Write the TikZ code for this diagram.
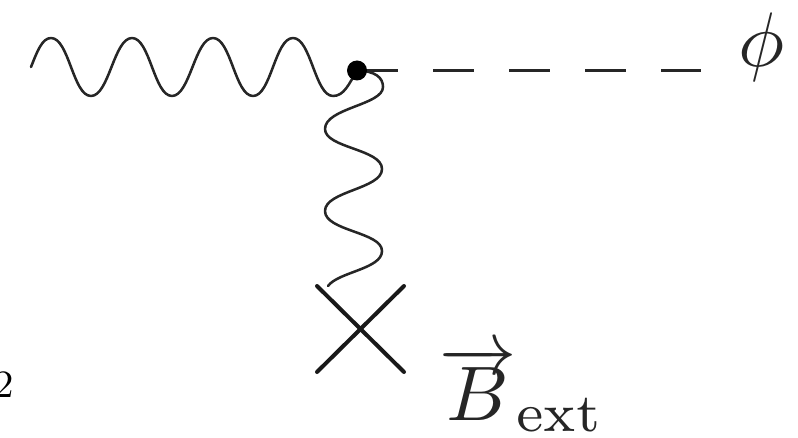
\documentclass[tikz,border=0pt]{standalone}
\tikzset{
  wavy/.style={draw=black!85, line width=1.9pt, line cap=round, line join=round},
  scalar/.style={draw=black!85, line width=2.3pt, dash pattern=on 30.75pt off 26.25pt},
  crossbar/.style={draw=black!90, line width=3pt, line cap=round},
  vertexdot/.style={circle, fill=black, inner sep=0pt, minimum size=15pt},
  bigmath/.style={inner sep=0pt, outer sep=0pt, scale=5.8, text=black!85},
}
\begin{document}
\begin{tikzpicture}[x=0.75pt,y=-0.75pt]
\useasboundingbox (0,0) rectangle (798,438);
\coordinate (wstart) at (31,67);
\coordinate (dashend) at (701,70.5);
\coordinate (vtx) at (357,70.5);
\coordinate (crossa) at (317,286);
\coordinate (crossb) at (404,372);
\coordinate (crossd) at (404,286);
\coordinate (crosse) at (317,372);
\coordinate (wend) at (328,286);
% scalar line
\draw[scalar] (vtx) -- (dashend);
% horizontal photon
\draw[wavy] (wstart) .. controls (37,52) and (42,38) .. (51,38)
  .. controls (69,38) and (73,96) .. (91,96)
  .. controls (109,96) and (114,38) .. (132,38)
  .. controls (150,38) and (154,96) .. (172,96)
  .. controls (190,96) and (195,38) .. (213,38)
  .. controls (231,38) and (235,96) .. (253,96)
  .. controls (271,96) and (275,38) .. (293,38)
  .. controls (311,38) and (315,96) .. (333,96)
  .. controls (344,96) and (349,84) .. (vtx);
% vertical photon
\draw[wavy] (vtx) .. controls (376,71) and (383,78) .. (383,87)
  .. controls (383,105) and (325,108) .. (325,129)
  .. controls (325,148) and (382,149) .. (382,169)
  .. controls (382,189) and (325,191) .. (325,211)
  .. controls (325,231) and (382,232) .. (382,251)
  .. controls (382,269) and (338,272) .. (wend);
% cross
\draw[crossbar] (crossa) -- (crossb);
\draw[crossbar] (crossd) -- (crosse);
% vertex
\node[vertexdot] (v) at (vtx) {};
% labels
\node[bigmath, anchor=base west] (phi) at (738,67) {$\phi$};
\node[bigmath, anchor=base west] (bext) at (439,420) {$\overrightarrow{B}_{\rm ext}$};
\node[inner sep=0pt, anchor=base east, scale=2.9, text=black] (pagenum) at (15,397) {2};
\end{tikzpicture}
\end{document}
